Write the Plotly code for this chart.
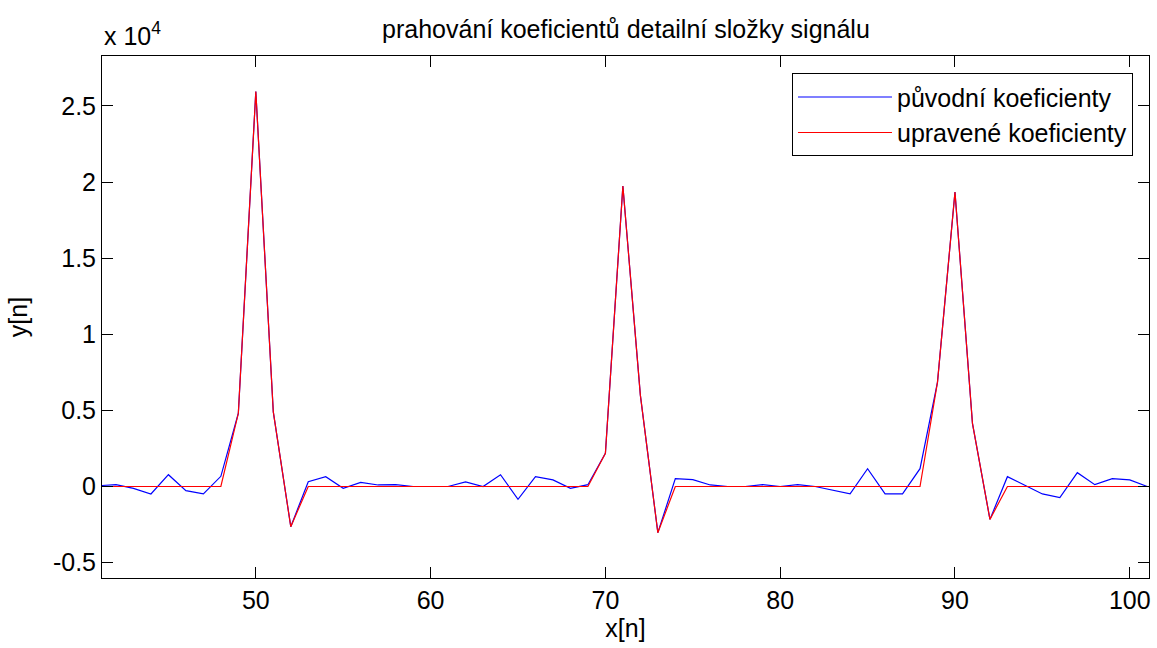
import plotly.graph_objects as go

n = list(range(41, 102))
puvodni = [50, 120, -120, -490, 775, -275, -490, 670, 4810, 25950,
           4900, -2640, 316, 645, -120, 275, 100, 120, 0, 0,
           0, 300, 0, 775, -840, 645, 430, -120, 120, 2180,
           19740, 6000, -3035, 513, 450, 100, 0, 0, 120, 0,
           120, 0, -250, -490, 1170, -490, -490, 1170, 6860, 19350,
           4150, -2160, 645, 100, -490, -735, 910, 120, 513, 430, 0]
upravene = [0, 0, 0, 0, 0, 0, 0, 0, 4810, 25950,
            4900, -2640, 0, 0, 0, 0, 0, 0, 0, 0,
            0, 0, 0, 0, 0, 0, 0, 0, 0, 2180,
            19740, 6000, -3035, 0, 0, 0, 0, 0, 0, 0,
            0, 0, 0, 0, 0, 0, 0, 0, 6860, 19350,
            4150, -2160, 0, 0, 0, 0, 0, 0, 0, 0, 0]
ytick_vals = [-5000, 0, 5000, 10000, 15000, 20000, 25000]
ytick_text = ["-0.5", "0", "0.5", "1", "1.5", "2", "2.5"]
xtick_vals = [50, 60, 70, 80, 90, 100]

FONT = "Liberation Sans, Arial, sans-serif"

fig = go.Figure()
fig.add_trace(go.Scatter(x=n, y=puvodni, mode="lines", name="původní koeficienty",
                         line=dict(color="#0000FF", width=1.2)))
fig.add_trace(go.Scatter(x=n, y=upravene, mode="lines", name="upravené koeficienty",
                         line=dict(color="#FF0000", width=1.2)))

fig.update_layout(
    width=1157, height=648,
    margin=dict(l=102, r=6, t=56, b=70),
    paper_bgcolor="white", plot_bgcolor="white",
    font=dict(family=FONT, size=25, color="black"),
    title=dict(text="prahování koeficientů detailní složky signálu",
               x=0.541, xanchor="center", y=0.955, yanchor="middle",
               font=dict(family=FONT, size=25, color="black")),
    showlegend=True,
    legend=dict(x=0.659, xanchor="left", y=0.967, yanchor="top",
                bgcolor="white", bordercolor="black", borderwidth=1,
                font=dict(family=FONT, size=25, color="black"),
                itemwidth=94, tracegroupgap=0),
    xaxis=dict(range=[41.2, 101.1], tickvals=xtick_vals, ticks="inside", ticklen=11,
               showline=True, linecolor="black", linewidth=1, mirror="ticks",
               showgrid=False, zeroline=False, tickcolor="black",
               title=dict(text="x[n]", standoff=6, font=dict(size=25))),
    yaxis=dict(range=[-6012, 28284], tickvals=ytick_vals, ticktext=ytick_text,
               ticks="inside", ticklen=11,
               showline=True, linecolor="black", linewidth=1, mirror="ticks",
               showgrid=False, zeroline=False, tickcolor="black",
               title=dict(text="y[n]", standoff=18, font=dict(size=25))),
    annotations=[dict(text="x 10<sup>4</sup>", xref="paper", yref="paper",
                      x=0.0, y=1.0, xanchor="left", yanchor="bottom", yshift=4,
                      showarrow=False, font=dict(family=FONT, size=25, color="black"))],
)

fig.write_html("out.html")
